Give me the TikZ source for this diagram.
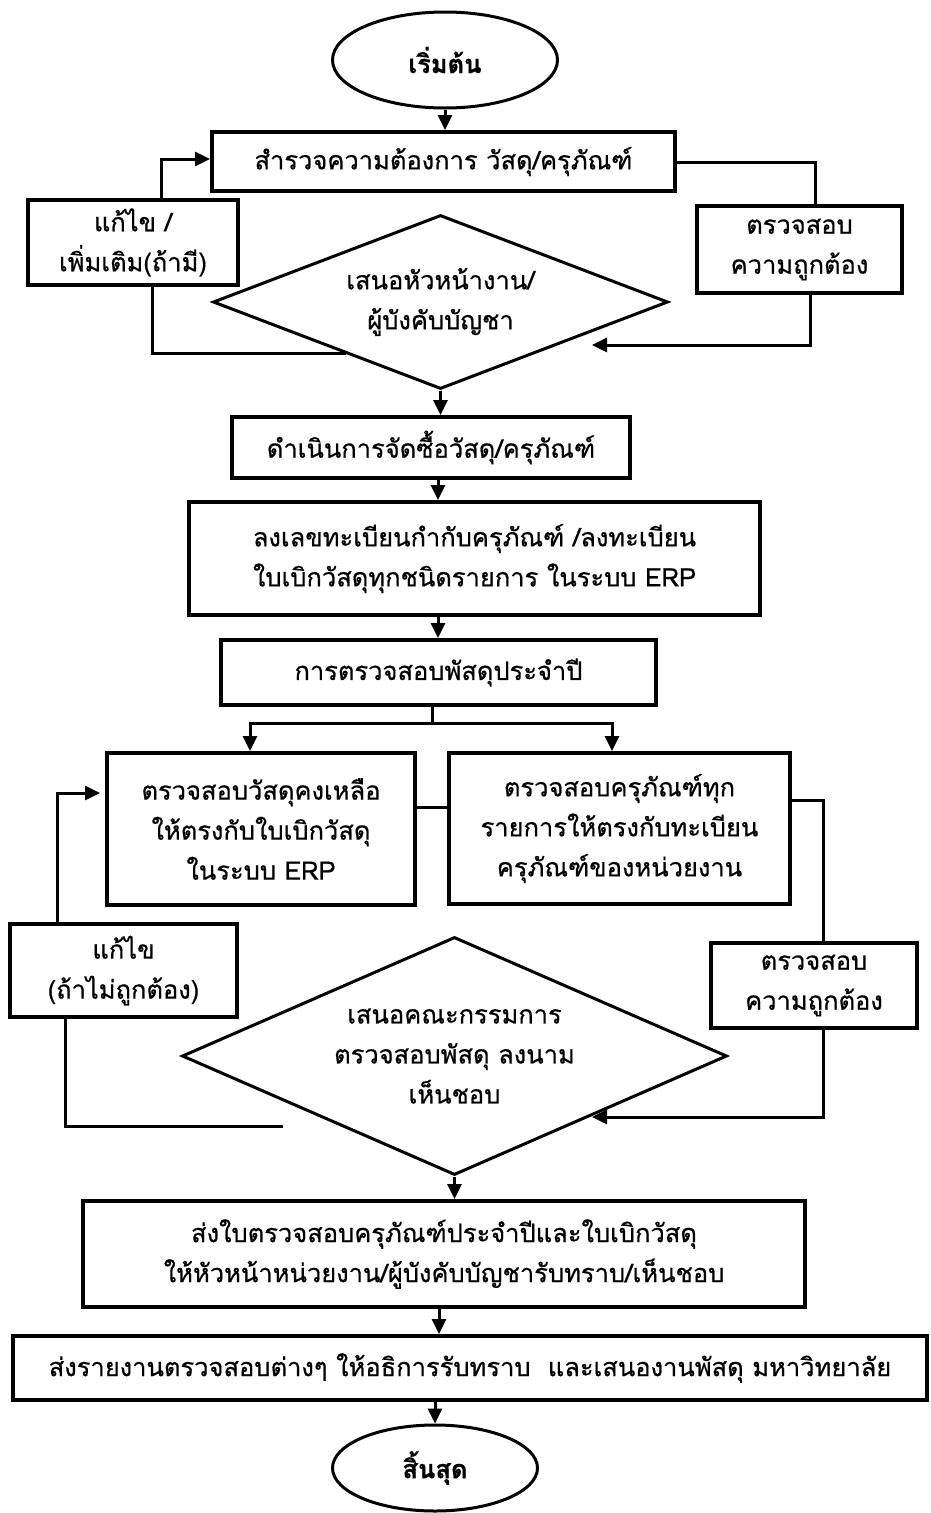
\documentclass[tikz,border=0pt]{standalone}
\usepackage{fontspec}
\usetikzlibrary{shapes.geometric,arrows.meta}
\newfontfamily\thai[Script=Thai,FakeBold=0.6]{Loma}
\newfontfamily\thaibold[Script=Thai]{Loma Bold}
\newcommand{\txt}{\thai\fontsize{25.5}{40}\selectfont}
\newcommand{\txtb}{\thai\bfseries\fontsize{25.5}{40}\selectfont}
\tikzset{
  box/.style={draw, line width=4pt, rectangle, inner sep=0pt, align=center, font=\txt},
  term/.style={draw, line width=3pt, ellipse, inner sep=0pt, align=center, font=\txtb},
  dec/.style={draw, line width=3pt, diamond, inner sep=0pt, align=center, font=\txt},
  conn/.style={line width=3pt},
  arr/.style={conn, -{Triangle[length=15pt,width=14pt]}}
}
\begin{document}
\begin{tikzpicture}[x=1pt,y=-1pt]
\fill[white] (0,0) rectangle (930,1513);
\useasboundingbox (0,0) rectangle (930,1513);

% terminals
\node[term, minimum width=225, minimum height=96] (start) at (445,60) {เริ่มต้น};
\node[term, minimum width=205, minimum height=86] (end) at (435,1468) {สิ้นสุด};

% first loop
\node[box, minimum width=463, minimum height=59] (b1) at (443.5,161.5) {สำรวจความต้องการ วัสดุ/ครุภัณฑ์};
\node[box, minimum width=210, minimum height=85] (fix1) at (133,242.5) {แก้ไข /\\เพิ่มเติม(ถ้ามี)};
\node[box, minimum width=205, minimum height=87] (chk1) at (799.5,249.5) {ตรวจสอบ\\ความถูกต้อง};
\node[dec, aspect=2.6, minimum width=455, minimum height=174] (d1) at (440.5,302) {เสนอหัวหน้างาน/\\ผู้บังคับบัญชา};

% main sequence
\node[box, minimum width=398, minimum height=61] (b2) at (431,447.5) {ดำเนินการจัดซื้อวัสดุ/ครุภัณฑ์};
\node[box, minimum width=571, minimum height=113] (b3) at (474.5,558.5) {ลงเลขทะเบียนกำกับครุภัณฑ์ /ลงทะเบียน\\ใบเบิกวัสดุทุกชนิดรายการ ในระบบ ERP};
\node[box, minimum width=435, minimum height=65] (b4) at (438.5,672.5) {การตรวจสอบพัสดุประจำปี};

% second loop
\node[box, minimum width=308, minimum height=152] (bL) at (261,829) {ตรวจสอบวัสดุคงเหลือ\\ให้ตรงกับใบเบิกวัสดุ\\ในระบบ ERP};
\node[box, minimum width=341, minimum height=151] (bR) at (619.5,828.5) {ตรวจสอบครุภัณฑ์ทุก\\รายการให้ตรงกับทะเบียน\\ครุภัณฑ์ของหน่วยงาน};
\node[box, minimum width=227, minimum height=93] (fix2) at (123.5,970.5) {แก้ไข\\(ถ้าไม่ถูกต้อง)};
\node[box, minimum width=206, minimum height=85] (chk2) at (814,985.5) {ตรวจสอบ\\ความถูกต้อง};
\node[dec, aspect=2.29, minimum width=545, minimum height=238] (d2) at (454.5,1056) {เสนอคณะกรรมการ\\ตรวจสอบพัสดุ ลงนาม\\เห็นชอบ};

% reporting
\node[box, minimum width=722, minimum height=106] (b5) at (444,1254) {ส่งใบตรวจสอบครุภัณฑ์ประจำปีและใบเบิกวัสดุ\\ให้หัวหน้าหน่วยงาน/ผู้บังคับบัญชารับทราบ/เห็นชอบ};
\node[box, minimum width=914, minimum height=64] (b6) at (470,1368) {ส่งรายงานตรวจสอบต่างๆ ให้อธิการรับทราบ~~และเสนองานพัสดุ มหาวิทยาลัย};

% free ends of connectors
\coordinate (t1) at (592,345);
\coordinate (s1) at (346,353);
\coordinate (sp) at (432,723);
\coordinate (t2) at (592,1117);
\coordinate (t3) at (100,793);
\coordinate (e2) at (283,1126);

% connectors
\draw[arr] (start.south) -- (start.south |- b1.north);
\draw[arr] (161,0 |- fix1.north) |- (b1.west |- 0,159);
\draw[conn] (b1.east |- 0,162) -| (815,0 |- chk1.north);
\draw[arr] (810,0 |- chk1.south) |- (t1);
\draw[conn] (s1) -| (152,0 |- fix1.south);
\draw[arr] (d1.south) -- (d1.south |- b2.north);
\draw[arr] (438,0 |- b2.south) -- (438,0 |- b3.north);
\draw[arr] (438,0 |- b3.south) -- (438,0 |- b4.north);
\draw[conn] (432,0 |- b4.south) -- (sp);
\draw[arr] (sp) -| (250,0 |- bL.north);
\draw[arr] (sp) -| (612,0 |- bR.north);
\draw[conn] (bL.east |- 0,807) -- (bR.west |- 0,807);
\draw[conn] (bR.east |- 0,800) -| (823,0 |- chk2.north);
\draw[arr] (823,0 |- chk2.south) |- (t2);
\draw[arr] (57,0 |- fix2.north) |- (t3);
\draw[conn] (65,0 |- fix2.south) |- (e2);
\draw[arr] (d2.south) -- (d2.south |- b5.north);
\draw[arr] (439,0 |- b5.south) -- (439,0 |- b6.north);
\draw[arr] (end.north |- b6.south) -- (end.north);
\end{tikzpicture}
\end{document}
